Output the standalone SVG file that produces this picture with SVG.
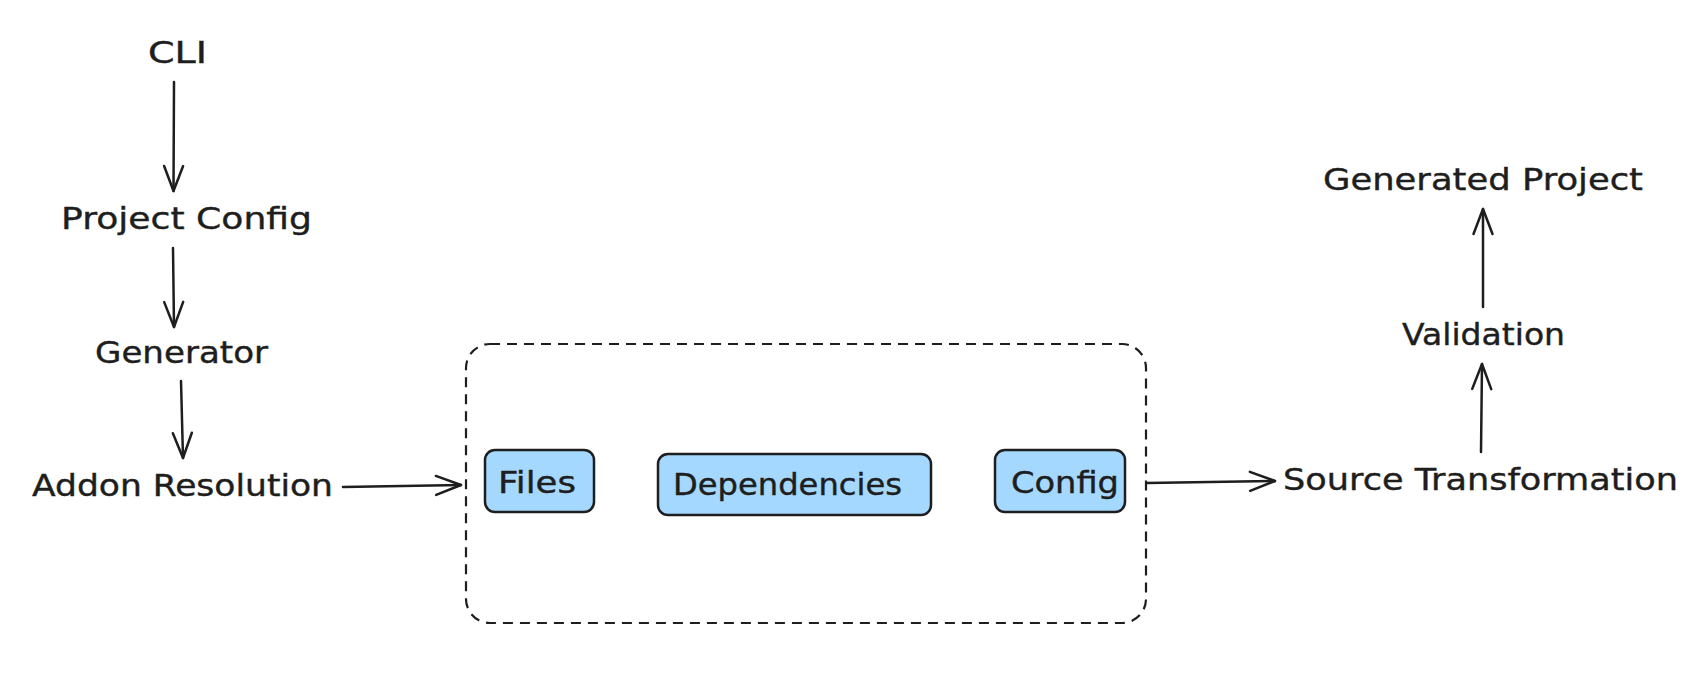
<svg xmlns="http://www.w3.org/2000/svg" width="1708" height="676" viewBox="0 0 1708 676">
  <defs>
    <style>
      .lbl { font-family: "DejaVu Sans", "Liberation Sans", sans-serif; font-size: 30px; fill: #1e1e1e; stroke: #1e1e1e; stroke-width: 0.4; text-anchor: middle; }
      .box { fill: #a5d8ff; stroke: #1e1e1e; stroke-width: 2.5; }
      .grp { fill: none; stroke: #1e1e1e; stroke-width: 2.2; stroke-dasharray: 10 7; }
      .conn { fill: none; stroke: #1e1e1e; stroke-width: 2.5; stroke-linecap: round; }
    </style>
    <marker id="ah" markerUnits="userSpaceOnUse" markerWidth="40" markerHeight="40" viewBox="-30 -20 40 40" refX="0" refY="0" orient="auto" overflow="visible">
      <path d="M-25,-9.5 L0,0 L-25,9.5" fill="none" stroke="#1e1e1e" stroke-width="2.5" stroke-linecap="round" stroke-linejoin="round"/>
    </marker>
  </defs>
  <rect width="1708" height="676" fill="#ffffff"/>

  <g id="connectors">
    <path class="conn" d="M174,82 L173.5,191" marker-end="url(#ah)"/>
    <path class="conn" d="M173,248 L174,327" marker-end="url(#ah)"/>
    <path class="conn" d="M181,381 L183,458" marker-end="url(#ah)"/>
    <path class="conn" d="M343,487 L461,485" marker-end="url(#ah)"/>
    <path class="conn" d="M1147,483 L1275,481" marker-end="url(#ah)"/>
    <path class="conn" d="M1481,452 L1482,364" marker-end="url(#ah)"/>
    <path class="conn" d="M1483,307 L1483,209" marker-end="url(#ah)"/>
  </g>

  <g id="cli"><text class="lbl" x="177.5" y="63" textLength="59" lengthAdjust="spacingAndGlyphs">CLI</text></g>
  <g id="project-config"><text class="lbl" x="186.5" y="229" textLength="251" lengthAdjust="spacingAndGlyphs">Project Config</text></g>
  <g id="generator"><text class="lbl" x="181.5" y="363" textLength="173" lengthAdjust="spacingAndGlyphs">Generator</text></g>
  <g id="addon-resolution"><text class="lbl" x="182.5" y="496" textLength="301" lengthAdjust="spacingAndGlyphs">Addon Resolution</text></g>

  <g id="addon-group">
    <rect class="grp" x="466" y="344" width="680" height="279" rx="24" ry="24"/>
  </g>
  <g id="files">
    <rect class="box" x="485" y="450" width="109" height="62" rx="10" ry="10"/>
    <text class="lbl" x="537" y="493" textLength="78" lengthAdjust="spacingAndGlyphs">Files</text>
  </g>
  <g id="dependencies">
    <rect class="box" x="658" y="454" width="273" height="61" rx="10" ry="10"/>
    <text class="lbl" x="787.5" y="495" textLength="229" lengthAdjust="spacingAndGlyphs">Dependencies</text>
  </g>
  <g id="config">
    <rect class="box" x="995" y="450" width="130" height="62" rx="10" ry="10"/>
    <text class="lbl" x="1065" y="493" textLength="108" lengthAdjust="spacingAndGlyphs">Config</text>
  </g>

  <g id="source-transformation"><text class="lbl" x="1480.5" y="490" textLength="395" lengthAdjust="spacingAndGlyphs">Source Transformation</text></g>
  <g id="validation"><text class="lbl" x="1483.5" y="345" textLength="163" lengthAdjust="spacingAndGlyphs">Validation</text></g>
  <g id="generated-project"><text class="lbl" x="1483" y="190" textLength="320" lengthAdjust="spacingAndGlyphs">Generated Project</text></g>
</svg>
